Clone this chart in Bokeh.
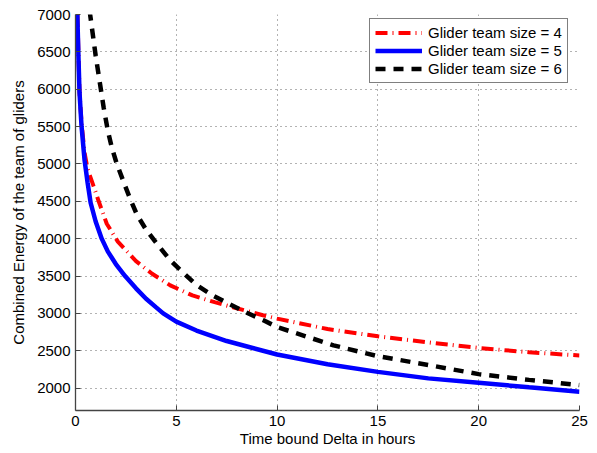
from bokeh.plotting import figure
from bokeh.models import Range1d, FixedTicker, Legend, LegendItem
from bokeh.embed import file_html
from bokeh.resources import INLINE

# Glider team size = 4 (red, dash-dot)
x4 = [0.07, 0.1, 0.15, 0.2, 0.3, 0.45, 0.6, 0.9, 1.15, 1.55, 2.1, 3.0, 3.8, 4.7, 5.8, 6.9,
      7.9, 9.3, 10, 12.5, 15, 17.5, 20, 22.5, 25]
y4 = [7300, 6950, 6450, 5950, 5550, 5150, 4930, 4700, 4500, 4200, 3960, 3700, 3530, 3375, 3240, 3150,
      3075, 2975, 2930, 2790, 2693, 2612, 2537, 2480, 2436]

# Glider team size = 5 (blue, solid)
x5 = [0.07, 0.1, 0.15, 0.2, 0.3, 0.45, 0.6, 0.75, 1.0, 1.3, 1.6, 2.0, 2.46, 3.0, 3.5, 4.0, 4.35,
      5.0, 6.0, 7.5, 10, 12.5, 15, 17.5, 20, 22.5, 25]
y5 = [7300, 6900, 6400, 5950, 5500, 5050, 4750, 4480, 4230, 4000, 3830, 3660, 3500, 3335, 3195, 3080, 3000,
      2890, 2770, 2630, 2450, 2320, 2217, 2130, 2071, 2010, 1951]

# Glider team size = 6 (black, dashed)
x6 = [0.7, 0.8, 0.9, 1.0, 1.2, 1.4, 1.6, 1.8, 2.05, 2.4, 2.7, 3.05, 3.5, 4.1, 4.7, 5.4,
      6.0, 6.8, 7.6, 8.4, 9.3, 10, 12.8, 15, 17.6, 20, 22.5, 25]
y6 = [7050, 6850, 6650, 6450, 6100, 5750, 5450, 5220, 5000, 4750, 4540, 4320, 4120, 3910, 3710, 3530,
      3380, 3240, 3130, 3020, 2910, 2817, 2572, 2427, 2304, 2187, 2110, 2040]

x_ticks = [0, 5, 10, 15, 20, 25]
y_ticks = [2000, 2500, 3000, 3500, 4000, 4500, 5000, 5500, 6000, 6500, 7000]
labels = ["Glider team size = 4", "Glider team size = 5", "Glider team size = 6"]

FONT = "Liberation Sans"
FS = "15px"

p = figure(width=597, height=453, output_backend="svg", toolbar_location=None,
           x_range=Range1d(0, 25), y_range=Range1d(1700, 7000),
           min_border_left=75, min_border_right=18, min_border_top=14, min_border_bottom=43)
p.outline_line_color = None
p.background_fill_color = "white"
p.border_fill_color = "white"

r4 = p.line(x4, y4, line_color="#ff0000", line_width=4, line_dash="12 5 1 5")
r5 = p.line(x5, y5, line_color="#0000ff", line_width=4.5)
r6 = p.line(x6, y6, line_color="black", line_width=4.5, line_dash="10 8")

for ax in (p.xaxis, p.yaxis):
    ax.axis_line_color = "#444444"
    ax.axis_line_width = 1.3
    ax.major_tick_in = 5
    ax.major_tick_out = 0
    ax.minor_tick_in = 0
    ax.minor_tick_out = 0
    ax.major_tick_line_color = "#444444"
    ax.major_label_text_font = FONT
    ax.major_label_text_font_size = FS
    ax.major_label_text_color = "black"
    ax.axis_label_text_font = FONT
    ax.axis_label_text_font_size = FS
    ax.axis_label_text_font_style = "normal"
    ax.axis_label_text_color = "black"

p.xaxis.ticker = FixedTicker(ticks=x_ticks)
p.yaxis.ticker = FixedTicker(ticks=y_ticks)
p.xaxis.axis_label = "Time bound Delta in hours"
p.yaxis.axis_label = "Combined Energy of the team of gliders"
p.xaxis.major_label_standoff = 5
p.yaxis.major_label_standoff = 5
p.xaxis.axis_label_standoff = 1
p.yaxis.axis_label_standoff = 7

for g in (p.xgrid, p.ygrid):
    g.grid_line_color = "black"
    g.grid_line_alpha = 0.6
    g.grid_line_dash = "1 4"
    g.grid_line_width = 1

legend = Legend(items=[LegendItem(label=labels[0], renderers=[r4]),
                       LegendItem(label=labels[1], renderers=[r5]),
                       LegendItem(label=labels[2], renderers=[r6])],
                location=(294, 327))
legend.border_line_color = "black"
legend.border_line_width = 1
legend.background_fill_color = "white"
legend.background_fill_alpha = 1
legend.label_text_font = FONT
legend.label_text_font_size = FS
legend.label_text_color = "black"
legend.glyph_width = 47
legend.glyph_height = 17
legend.label_height = 17
legend.label_standoff = 6
legend.padding = 5
legend.spacing = 1
legend.margin = 0
p.add_layout(legend, "center")

open("out.html", "w").write(file_html(p, INLINE))
